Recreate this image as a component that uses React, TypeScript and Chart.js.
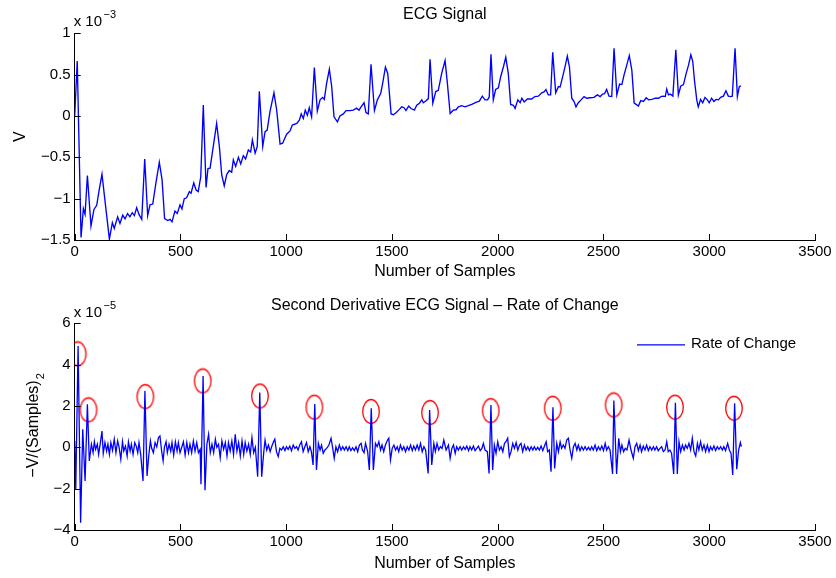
import { useEffect, useRef } from "react";
import { Chart, registerables } from "chart.js";

Chart.register(...registerables);

// ---------- data ----------
const xTickValues = [0, 500, 1000, 1500, 2000, 2500, 3000, 3500];
const ecgTickValues = [-1.5, -1, -0.5, 0, 0.5, 1];
const derivTickValues = [-4, -2, 0, 2, 4, 6];

// ECG signal (values in units of 1e-3 V)
const ecgSamples = [
  0, 12, 30, 41, 49, 60, 77, 91, 104, 116, 129, 143, 164, 178, 187, 203, 214, 227, 238, 250,
  261, 272, 282, 293, 304, 317, 331, 345, 356, 369, 384, 400, 413, 425, 440, 451, 460, 474, 485, 498,
  507, 518, 529, 542, 550, 563, 574, 584, 596, 608, 621, 630, 640, 655, 671, 684, 695, 707, 719, 731,
  742, 750, 761, 774, 785, 797, 808, 821, 832, 840, 853, 863, 873, 889, 900, 910, 923, 942, 955, 971,
  983, 1002, 1018, 1029, 1050, 1062, 1071, 1081, 1090, 1100, 1109, 1120, 1133, 1147, 1160, 1172, 1180, 1191, 1204, 1215,
  1226, 1242, 1254, 1270, 1283, 1302, 1317, 1333, 1344, 1354, 1368, 1377, 1388, 1401, 1417, 1431, 1447, 1456, 1469, 1480,
  1496, 1506, 1519, 1535, 1546, 1557, 1566, 1579, 1590, 1606, 1617, 1630, 1641, 1648, 1661, 1672, 1680, 1693, 1707, 1719,
  1735, 1751, 1762, 1775, 1790, 1803, 1814, 1830, 1846, 1861, 1877, 1897, 1913, 1927, 1940, 1952, 1960, 1968, 1979, 1990,
  2003, 2014, 2027, 2038, 2050, 2061, 2074, 2082, 2095, 2106, 2114, 2125, 2140, 2160, 2176, 2192, 2208, 2219, 2228, 2239,
  2250, 2260, 2274, 2287, 2295, 2307, 2318, 2329, 2339, 2350, 2361, 2370, 2381, 2394, 2408, 2421, 2436, 2455, 2471, 2484,
  2496, 2505, 2515, 2526, 2539, 2550, 2563, 2576, 2587, 2597, 2610, 2622, 2634, 2645, 2654, 2665, 2676, 2689, 2702, 2713,
  2729, 2745, 2761, 2772, 2781, 2792, 2799, 2807, 2815, 2828, 2842, 2854, 2865, 2878, 2891, 2902, 2913, 2922, 2930, 2941,
  2948, 2959, 2969, 2980, 2991, 3000, 3011, 3022, 3032, 3043, 3054, 3067, 3079, 3090, 3101, 3109, 3122, 3133, 3142, 3150,
];
const ecgValues = [
  0.0, 0.665, -1.47, -1.12, -1.19, -0.72, -1.33, -1.13, -1.08, -0.89, -0.705, -1.02, -1.49, -1.29, -1.36, -1.22, -1.3, -1.2, -1.245, -1.18,
  -1.22, -1.17, -1.205, -1.11, -1.19, -1.25, -0.52, -1.205, -1.075, -1.065, -0.81, -0.56, -0.77, -1.24, -1.265, -1.25, -1.28, -1.15, -1.18, -1.075,
  -1.125, -1.0, -0.99, -0.915, -0.935, -0.81, -0.895, -0.915, -0.735, 0.133, -0.865, -0.635, -0.63, -0.37, -0.09, -0.37, -0.71, -0.845, -0.705, -0.66,
  -0.68, -0.53, -0.61, -0.5, -0.58, -0.48, -0.52, -0.41, -0.435, -0.29, -0.45, -0.37, 0.3, -0.37, -0.19, -0.17, 0.05, 0.28, 0.07, -0.34,
  -0.33, -0.22, -0.18, -0.11, -0.09, -0.05, 0.025, -0.03, 0.07, 0.01, 0.1, -0.01, 0.585, 0.06, 0.195, 0.225, 0.2, 0.395, 0.565, 0.355,
  -0.01, -0.07, 0.0, 0.025, 0.065, 0.065, 0.07, 0.095, 0.07, 0.11, 0.16, 0.04, 0.025, 0.625, 0.065, 0.195, 0.275, 0.395, 0.59, 0.515,
  0.025, 0.015, 0.04, 0.08, 0.11, 0.1, 0.065, 0.12, 0.09, 0.07, 0.13, 0.155, 0.195, 0.16, 0.185, 0.21, 0.685, 0.155, 0.295, 0.31,
  0.515, 0.67, 0.395, 0.03, 0.07, 0.075, 0.11, 0.125, 0.11, 0.125, 0.14, 0.165, 0.18, 0.24, 0.195, 0.195, 0.23, 0.745, 0.195, 0.32,
  0.34, 0.475, 0.595, 0.71, 0.515, 0.14, 0.13, 0.09, 0.195, 0.16, 0.215, 0.17, 0.205, 0.205, 0.235, 0.24, 0.28, 0.29, 0.32, 0.255,
  0.255, 0.77, 0.28, 0.355, 0.35, 0.475, 0.595, 0.725, 0.595, 0.215, 0.175, 0.11, 0.16, 0.195, 0.235, 0.215, 0.22, 0.225, 0.255, 0.235,
  0.265, 0.27, 0.32, 0.24, 0.235, 0.82, 0.255, 0.385, 0.38, 0.495, 0.615, 0.73, 0.555, 0.155, 0.14, 0.12, 0.185, 0.175, 0.22, 0.195,
  0.2, 0.215, 0.215, 0.235, 0.24, 0.235, 0.325, 0.255, 0.265, 0.24, 0.8, 0.255, 0.36, 0.38, 0.515, 0.615, 0.74, 0.66, 0.435, 0.195,
  0.11, 0.2, 0.16, 0.225, 0.195, 0.16, 0.215, 0.175, 0.2, 0.195, 0.225, 0.24, 0.305, 0.24, 0.235, 0.24, 0.82, 0.235, 0.355, 0.365,
];

// Second derivative (values in units of 1e-5)
const derivSamples = [
  0, 5, 16, 28, 38, 49, 60, 69, 79, 87, 93, 99, 107, 113, 121, 129, 135, 143, 151, 157,
  164, 171, 179, 187, 195, 203, 210, 218, 226, 232, 240, 248, 254, 262, 268, 276, 284, 291, 298, 304,
  312, 323, 332, 342, 350, 358, 364, 372, 380, 388, 396, 403, 411, 418, 424, 432, 438, 446, 454, 460,
  468, 476, 484, 490, 498, 506, 514, 522, 530, 538, 545, 553, 561, 569, 577, 585, 593, 597, 607, 616,
  625, 633, 641, 649, 657, 665, 672, 680, 688, 696, 704, 712, 720, 727, 735, 743, 751, 759, 767, 775,
  783, 791, 799, 806, 814, 822, 830, 838, 846, 854, 865, 875, 884, 894, 900, 908, 916, 924, 931, 940,
  946, 954, 962, 970, 978, 986, 994, 1001, 1009, 1017, 1025, 1033, 1041, 1049, 1056, 1064, 1072, 1080, 1088, 1096,
  1104, 1112, 1119, 1127, 1135, 1143, 1152, 1160, 1167, 1175, 1183, 1191, 1202, 1212, 1220, 1227, 1235, 1243, 1251, 1259,
  1267, 1275, 1283, 1291, 1298, 1306, 1314, 1322, 1330, 1338, 1346, 1354, 1360, 1368, 1375, 1385, 1393, 1402, 1412, 1422,
  1430, 1438, 1446, 1453, 1461, 1469, 1479, 1485, 1493, 1501, 1509, 1517, 1525, 1532, 1540, 1548, 1556, 1564, 1572, 1580,
  1588, 1596, 1603, 1611, 1619, 1627, 1635, 1643, 1651, 1659, 1671, 1678, 1688, 1698, 1705, 1713, 1721, 1729, 1737, 1745,
  1756, 1767, 1775, 1783, 1791, 1799, 1806, 1814, 1822, 1830, 1838, 1846, 1854, 1862, 1869, 1877, 1885, 1893, 1901, 1909,
  1917, 1925, 1932, 1940, 1951, 1959, 1968, 1976, 1984, 1992, 2000, 2008, 2016, 2024, 2032, 2039, 2047, 2055, 2063, 2071,
  2079, 2087, 2095, 2103, 2110, 2118, 2126, 2134, 2142, 2150, 2158, 2166, 2173, 2181, 2189, 2197, 2205, 2213, 2221, 2229,
  2236, 2244, 2252, 2261, 2269, 2279, 2287, 2295, 2302, 2310, 2318, 2326, 2334, 2342, 2350, 2358, 2366, 2374, 2381, 2389,
  2397, 2405, 2413, 2421, 2429, 2437, 2444, 2452, 2460, 2468, 2476, 2484, 2492, 2500, 2508, 2515, 2523, 2531, 2543, 2549,
  2562, 2572, 2580, 2587, 2595, 2603, 2611, 2621, 2630, 2641, 2649, 2657, 2665, 2673, 2680, 2688, 2696, 2704, 2712, 2720,
  2728, 2736, 2743, 2751, 2759, 2767, 2775, 2783, 2791, 2799, 2806, 2814, 2822, 2832, 2840, 2849, 2857, 2865, 2873, 2881,
  2888, 2896, 2904, 2912, 2920, 2928, 2936, 2944, 2951, 2959, 2967, 2975, 2983, 2991, 2999, 3006, 3014, 3022, 3030, 3038,
  3046, 3054, 3062, 3069, 3077, 3087, 3095, 3103, 3111, 3120, 3130, 3139, 3147, 3152,
];
const derivValues = [
  0.3, -2.03, 4.9, -3.65, 0.87, -1.63, 2.08, -0.66, 0.15, -0.26, 0.27, -0.1, 0.15, -0.34, 0.19, 0.79, -0.29, 0.23, -0.18, 0.15,
  -0.34, 0.23, -0.15, 0.39, -0.26, 0.31, 0, -0.58, 0.27, -0.18, 0.06, -0.42, 0.27, -0.18, 0.15, -0.34, 0.23, 0.06, -0.26, 0.23,
  -0.34, -1.63, 2.73, -1.39, -0.42, 0.31, -0.05, -0.26, 0.23, 0.02, 0.47, 0.55, -0.18, -0.66, 0, 0.27, -0.26, 0.15, -0.18, 0.23,
  -0.37, 0.27, -0.18, 0.23, -0.26, 0, 0.27, -0.37, 0.23, -0.26, 0.15, -0.26, 0.31, -0.18, 0.23, -0.26, -0.1, -1.79, 3.45, -2.08,
  0.15, 0.63, -0.26, 0.15, -0.26, 0.39, 0, 0.15, -0.5, 0.31, -0.1, 0.23, -0.42, 0.23, -0.18, 0.31, -0.34, 0.63, -0.18, 0.23,
  -0.42, 0.31, -0.34, 0.23, -0.18, 0.15, -0.34, 0.47, -0.26, 0, -1.42, 2.65, -1.42, -0.21, 0.35, -0.13, 0.11, -0.21, 0.03, 0.27,
  0.39, -0.21, -0.45, -0.05, -0.13, 0.03, -0.16, 0.03, -0.1, 0.06, -0.16, 0.11, -0.05, 0.03, -0.13, 0.11, 0.27, -0.21, 0.03, 0.23,
  -0.21, 0.03, -0.21, -0.85, 2.1, -1.1, 0.19, -0.13, 0.11, -0.29, -0.13, -0.05, 0.11, 0.44, -0.05, -0.53, 0.03, -0.21, 0.11, -0.13,
  0.03, -0.13, 0.03, -0.16, 0.03, -0.16, -0.02, -0.16, 0.03, -0.21, 0.11, 0.19, -0.13, -0.26, 0.19, -0.21, -1.1, 1.89, -1.1, 0.19,
  0.03, 0.27, -0.13, 0.11, -0.21, 0.11, 0.35, 0.44, -0.61, -0.05, 0.11, -0.13, 0.03, -0.21, 0.11, -0.13, 0.03, -0.21, 0.03, -0.13,
  0.11, -0.16, 0.06, -0.13, 0.11, -0.13, 0.19, -0.21, 0.03, -0.13, -1.26, 1.81, -0.85, 0.19, -0.21, 0.19, -0.13, 0.03, -0.05, 0.35,
  -0.13, 0.11, -0.53, -0.05, 0.11, -0.29, 0.03, -0.13, 0.03, -0.13, 0.03, -0.1, 0.06, -0.16, 0.03, -0.13, 0.06, -0.16, -0.05, 0.06,
  -0.16, -0.05, 0.19, -0.13, -0.21, -1.26, 2.05, -1.1, 0.11, -0.29, 0.27, -0.13, 0.03, -0.21, 0.19, 0.27, 0.44, -0.45, -0.21, 0.19,
  -0.05, 0.23, -0.13, 0.11, 0.19, -0.21, 0.11, -0.13, 0.03, -0.16, 0.03, -0.13, 0.03, -0.13, 0, -0.13, 0.06, -0.16, 0.06, 0.27,
  -0.21, -0.13, -1.18, 1.94, -1.02, 0.19, -0.21, 0.27, -0.05, 0.11, -0.05, 0.35, 0.44, -0.13, -0.53, 0.03, 0.19, -0.13, 0.11, -0.16,
  0.03, -0.13, 0.03, -0.13, 0, -0.13, 0.03, -0.13, 0.11, -0.16, 0.03, -0.13, 0.06, -0.16, 0.19, -0.13, 0.03, -0.13, -1.29, 2.26,
  -1.29, 0.44, -0.21, 0.11, -0.21, -0.05, -0.13, 0.35, -0.13, -0.53, 0.03, 0.19, -0.16, 0.11, -0.21, 0.06, -0.13, 0.11, -0.16, 0.03,
  -0.13, 0.03, -0.13, 0.03, -0.16, -0.05, 0.03, -0.21, -0.13, 0.27, -0.21, -0.13, -0.29, -1.29, 2.16, -1.29, 0.27, -0.21, 0.11, -0.13,
  0.11, -0.05, 0.19, -0.13, 0.44, -0.21, -0.42, 0.19, -0.13, 0.27, -0.13, 0.11, -0.21, 0.11, -0.21, 0.03, -0.13, 0.06, -0.16, 0.03,
  -0.1, 0.03, -0.13, 0.03, -0.16, 0.19, -0.13, -0.29, -1.34, 2.13, -1.06, -0.13, 0.23, 0.03,
];

// detected peaks (red circle marks)
const peakSamples = [14, 65, 334, 605, 876, 1133, 1401, 1680, 1967, 2260, 2548, 2838, 3117];
const peakMarks = [4.52, 1.81, 2.45, 3.21, 2.48, 1.94, 1.73, 1.68, 1.77, 1.89, 2.05, 1.94, 1.89];

// ---------- styling ----------
const FONT = "'Liberation Sans', Arial, Helvetica, sans-serif";
const TICK_SIZE = 15;
const LABEL_SIZE = 16;
const BLUE = "#0000ff";

const fmt = (v: number) => {
  const s = String(Math.round(v * 1000) / 1000);
  return s.replace("-", "\u2212");
};

function makeInsideTicksPlugin(xVals: number[], yVals: number[]) {
  return {
    id: "insideTicks",
    afterDraw(chart: any) {
      const ctx = chart.ctx;
      const { left, bottom } = chart.chartArea;
      const xs = chart.scales.x;
      const ys = chart.scales.y;
      ctx.save();
      ctx.strokeStyle = "#000";
      ctx.lineWidth = 1;
      ctx.beginPath();
      xVals.forEach((v) => {
        const px = Math.round(xs.getPixelForValue(v)) + 0.5;
        ctx.moveTo(px, bottom);
        ctx.lineTo(px, bottom - 6);
      });
      yVals.forEach((v) => {
        const py = Math.round(ys.getPixelForValue(v)) + 0.5;
        ctx.moveTo(left, py);
        ctx.lineTo(left + 6, py);
      });
      ctx.stroke();
      ctx.restore();
    },
  };
}

type TextSpec = {
  titleText: string;
  titleY: number;
  xLabelY: number;
  exponent: string;
  expBaseline: number;
  yLabel: string;
  yLabelX: number;
  yLabelY: number;
  ySup?: string;
  legend?: { x1: number; x2: number; y: number; text: string };
};

function makeTextPlugin(spec: TextSpec) {
  return {
    id: "texts",
    afterDraw(chart: any) {
      const ctx = chart.ctx;
      const { left, right } = chart.chartArea;
      const cx = (left + right) / 2;
      ctx.save();
      ctx.fillStyle = "#000";
      // title
      ctx.font = `${LABEL_SIZE}px ${FONT}`;
      ctx.textAlign = "center";
      ctx.textBaseline = "middle";
      ctx.fillText(spec.titleText, cx, spec.titleY);
      // x label
      ctx.fillText("Number of Samples", cx, spec.xLabelY);
      // exponent
      ctx.textAlign = "left";
      ctx.textBaseline = "alphabetic";
      ctx.font = `${TICK_SIZE}px ${FONT}`;
      const base = "x 10";
      ctx.fillText(base, left - 1, spec.expBaseline);
      const w = ctx.measureText(base).width;
      ctx.font = `11px ${FONT}`;
      ctx.fillText(spec.exponent, left - 1 + w + 1.5, spec.expBaseline - 8);
      // y label (rotated)
      ctx.save();
      ctx.translate(spec.yLabelX, spec.yLabelY);
      ctx.rotate(-Math.PI / 2);
      ctx.font = `${LABEL_SIZE}px ${FONT}`;
      ctx.textAlign = "center";
      ctx.textBaseline = "middle";
      ctx.fillText(spec.yLabel, 0, 0);
      if (spec.ySup) {
        const tw = ctx.measureText(spec.yLabel).width;
        ctx.font = `11px ${FONT}`;
        ctx.textAlign = "left";
        ctx.fillText(spec.ySup, tw / 2 + 1, 7);
      }
      ctx.restore();
      // legend
      if (spec.legend) {
        const lg = spec.legend;
        ctx.strokeStyle = BLUE;
        ctx.lineWidth = 1.2;
        ctx.beginPath();
        ctx.moveTo(lg.x1, lg.y + 0.5);
        ctx.lineTo(lg.x2, lg.y + 0.5);
        ctx.stroke();
        ctx.font = `${TICK_SIZE}px ${FONT}`;
        ctx.textAlign = "left";
        ctx.textBaseline = "middle";
        ctx.fillText(lg.text, lg.x2 + 6, lg.y);
      }
      ctx.restore();
    },
  };
}

function makeOptions(yMin: number, yMax: number, yTicks: number[], xAxisH: number, padTop: number) {
  return {
    responsive: false,
    maintainAspectRatio: false,
    animation: false,
    devicePixelRatio: 1,
    layout: { padding: { top: padTop, right: 21, left: 0, bottom: 0 } },
    plugins: { legend: { display: false }, tooltip: { enabled: false }, title: { display: false } },
    elements: { line: { tension: 0 } },
    scales: {
      x: {
        type: "linear",
        min: 0,
        max: 3500,
        afterBuildTicks: (s: any) => {
          s.ticks = xTickValues.map((v) => ({ value: v }));
        },
        afterFit: (s: any) => {
          s.height = xAxisH;
        },
        ticks: {
          autoSkip: false,
          maxRotation: 0,
          padding: 2.5,
          color: "#000",
          font: { family: FONT, size: TICK_SIZE },
          callback: (v: any) => fmt(Number(v)),
        },
        grid: { display: true, drawOnChartArea: false, drawTicks: false },
        border: { display: true, color: "#000", width: 1 },
      },
      y: {
        type: "linear",
        min: yMin,
        max: yMax,
        afterBuildTicks: (s: any) => {
          s.ticks = yTicks.map((v) => ({ value: v }));
        },
        afterFit: (s: any) => {
          s.width = 74.7;
        },
        ticks: {
          autoSkip: false,
          padding: 4,
          color: "#000",
          font: { family: FONT, size: TICK_SIZE },
          callback: (v: any) => fmt(Number(v)),
        },
        grid: { display: true, drawOnChartArea: false, drawTicks: false },
        border: { display: true, color: "#000", width: 1 },
      },
    },
  };
}

export default function App() {
  const topRef = useRef<HTMLCanvasElement>(null);
  const botRef = useRef<HTMLCanvasElement>(null);

  useEffect(() => {
    if (!topRef.current || !botRef.current) return;

    const ellipse = document.createElement("canvas");
    ellipse.width = 20;
    ellipse.height = 27;
    const ec = ellipse.getContext("2d")!;
    ec.strokeStyle = "#ff0000";
    ec.lineWidth = 1.3;
    ec.beginPath();
    ec.ellipse(10, 13.5, 8.3, 12, 0, 0, Math.PI * 2);
    ec.stroke();

    const topChart = new Chart(topRef.current, {
      type: "line",
      data: {
        datasets: [
          {
            label: "ECG",
            data: ecgSamples.map((x, i) => ({ x, y: ecgValues[i] })),
            borderColor: BLUE,
            borderWidth: 1.35,
            pointRadius: 0,
            fill: false,
          },
        ],
      },
      options: makeOptions(-1.5, 1, ecgTickValues, 49, 33.3) as any,
      plugins: [
        makeInsideTicksPlugin(xTickValues, ecgTickValues),
        makeTextPlugin({
          titleText: "ECG Signal",
          titleY: 15,
          xLabelY: 272,
          exponent: "\u22123",
          expBaseline: 26,
          yLabel: "V",
          yLabelX: 21,
          yLabelY: 136.7,
        }),
      ],
    });

    const botChart = new Chart(botRef.current, {
      type: "line",
      data: {
        datasets: [
          {
            label: "Rate of Change",
            data: derivSamples.map((x, i) => ({ x, y: derivValues[i] })),
            borderColor: BLUE,
            borderWidth: 1.3,
            pointRadius: 0,
            fill: false,
          },
          {
            label: "Peaks",
            data: peakSamples.map((x, i) => ({ x, y: peakMarks[i] })),
            showLine: false,
            pointStyle: ellipse as any,
            pointRadius: 8,
            borderColor: "#ff0000",
          },
        ],
      },
      options: makeOptions(-4, 6, derivTickValues, 48, 34.3) as any,
      plugins: [
        makeInsideTicksPlugin(xTickValues, derivTickValues),
        makeTextPlugin({
          titleText: "Second Derivative ECG Signal \u2013 Rate of Change",
          titleY: 16.5,
          xLabelY: 275,
          exponent: "\u22125",
          expBaseline: 27.7,
          yLabel: "\u2212V/(Samples)",
          yLabelX: 34,
          yLabelY: 140,
          ySup: "2",
          legend: { x1: 637, x2: 685, y: 55.3, text: "Rate of Change" },
        }),
      ],
    });

    return () => {
      topChart.destroy();
      botChart.destroy();
    };
  }, []);

  return (
    <div style={{ position: "fixed", left: 0, top: 0, width: 836, height: 578, background: "#fff" }}>
      <canvas
        ref={topRef}
        width={836}
        height={289}
        style={{ position: "absolute", left: 0, top: 0, width: 836, height: 289 }}
      />
      <canvas
        ref={botRef}
        width={836}
        height={289}
        style={{ position: "absolute", left: 0, top: 289, width: 836, height: 289 }}
      />
    </div>
  );
}
